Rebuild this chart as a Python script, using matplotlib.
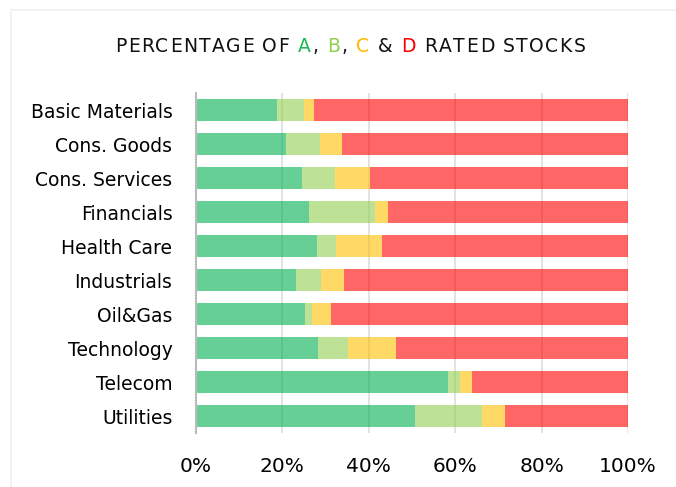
import matplotlib
matplotlib.use("Agg")
import matplotlib.pyplot as plt
from matplotlib.patches import Rectangle
import numpy as np

sectors = ["Basic Materials", "Cons. Goods", "Cons. Services", "Financials", "Health Care",
           "Industrials", "Oil&Gas", "Technology", "Telecom", "Utilities"]
rated_a = [18.8, 20.8, 24.5, 26.2, 28.0, 23.1, 25.2, 28.2, 58.3, 50.7]
rated_b = [6.1, 7.9, 7.7, 15.3, 4.4, 5.8, 1.6, 7.1, 2.7, 15.5]
rated_c = [2.5, 5.1, 8.1, 2.9, 10.7, 5.4, 4.5, 11.0, 2.9, 5.3]
rated_d = [72.6, 66.2, 59.7, 55.6, 56.9, 65.7, 68.7, 53.7, 36.1, 28.5]
xticks = [0, 20, 40, 60, 80, 100]

colors = ["#00B050", "#92D050", "#FFC000", "#FF0000"]

fig = plt.figure(figsize=(6.76, 4.87), dpi=100)
ax = fig.add_axes([196 / 676, 1 - 433 / 487, 432 / 676, 340 / 487])

y = np.arange(len(sectors))
left = np.zeros(len(sectors))
for vals, c in zip([rated_a, rated_b, rated_c, rated_d], colors):
    ax.barh(y, vals, left=left, height=0.65, color=c, alpha=0.6, zorder=2)
    left += np.array(vals)

ax.set_xlim(0, 100)
ax.set_ylim(len(sectors) - 0.5, -0.5)
ax.set_yticks(y)
ax.set_yticklabels(sectors, fontsize=13.5)
ax.set_xticks(xticks)
ax.set_xticklabels([f"{v}%" for v in xticks], fontsize=14.5)
ax.tick_params(axis="y", length=0, pad=17)
ax.tick_params(axis="x", length=0, pad=17)
ax.grid(axis="x", color="#dddddd", lw=1.2, zorder=1)
for s in ["top", "right", "bottom"]:
    ax.spines[s].set_visible(False)
ax.spines["left"].set_color("#bbbbbb")
ax.spines["left"].set_linewidth(1.5)
ax.spines["left"].set_zorder(3)

# faint card border
fig.patches.append(Rectangle((11 / 676, -0.1), 1.2, 1 - 10 / 487 + 0.1, transform=fig.transFigure,
                             fill=False, ec="#f0f0f0", lw=1.2))

# title with letter spacing and coloured grades
title = "PERCENTAGE OF A, B, C & D RATED STOCKS"
grade_cols = {14: "#1DB954", 17: "#92D050", 20: "#FFB800", 24: "#FF0000"}
fig.canvas.draw()
r = fig.canvas.get_renderer()
track = 1.4
widths = []
for ch in title:
    t = fig.text(0, 0, ch if ch != " " else "n", fontsize=13.5)
    w = t.get_window_extent(r).width
    if ch == " ":
        w *= 0.5
    widths.append(w)
    t.remove()
total = sum(widths) + track * (len(title) - 1)
x = 350 - total / 2
for i, ch in enumerate(title):
    fig.text(x / 676, 1 - 47 / 487, ch, fontsize=13.5, color=grade_cols.get(i, "#111111"),
             va="center", ha="left")
    x += widths[i] + track

fig.savefig("out.png", dpi=100)
